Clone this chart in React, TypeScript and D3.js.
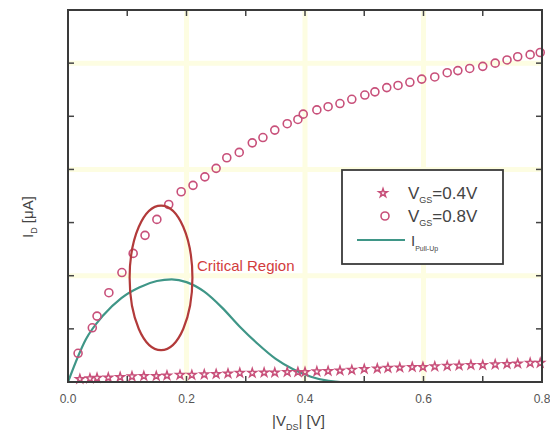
import React from "react";
import * as d3 from "d3";

// VGS = 0.8 V (circles)
const vds08 = [0.017, 0.041, 0.049, 0.069, 0.091, 0.11, 0.13, 0.15, 0.17, 0.191, 0.211, 0.231, 0.25, 0.268, 0.289, 0.311, 0.329, 0.349, 0.37, 0.388, 0.397, 0.42, 0.439, 0.459, 0.479, 0.501, 0.518, 0.538, 0.557, 0.577, 0.597, 0.619, 0.64, 0.658, 0.678, 0.7, 0.721, 0.741, 0.759, 0.78, 0.797];
const id08 = [0.27, 0.51, 0.62, 0.84, 1.03, 1.21, 1.38, 1.53, 1.67, 1.79, 1.85, 1.93, 2.01, 2.11, 2.16, 2.25, 2.3, 2.37, 2.43, 2.47, 2.52, 2.56, 2.59, 2.62, 2.66, 2.7, 2.73, 2.77, 2.79, 2.82, 2.85, 2.87, 2.91, 2.93, 2.95, 2.97, 3.0, 3.03, 3.06, 3.08, 3.1];

// VGS = 0.4 V (stars)
const vds04 = [0.02, 0.037, 0.049, 0.068, 0.088, 0.108, 0.128, 0.149, 0.167, 0.189, 0.209, 0.23, 0.25, 0.27, 0.29, 0.311, 0.331, 0.349, 0.37, 0.388, 0.4, 0.42, 0.439, 0.459, 0.479, 0.5, 0.522, 0.54, 0.56, 0.581, 0.599, 0.619, 0.64, 0.66, 0.68, 0.7, 0.721, 0.741, 0.759, 0.78, 0.797];
const id04 = [0.028, 0.033, 0.038, 0.042, 0.047, 0.052, 0.056, 0.056, 0.061, 0.066, 0.066, 0.071, 0.075, 0.08, 0.085, 0.085, 0.089, 0.089, 0.094, 0.094, 0.094, 0.099, 0.103, 0.108, 0.113, 0.122, 0.127, 0.132, 0.136, 0.141, 0.141, 0.146, 0.151, 0.155, 0.16, 0.16, 0.165, 0.169, 0.174, 0.179, 0.179];

// I Pull-Up (line)
const vdsPU = [0, 0.03, 0.06, 0.09, 0.12, 0.15, 0.175, 0.2, 0.23, 0.26, 0.29, 0.32, 0.35, 0.38, 0.41, 0.44, 0.46, 0.6, 0.8];
const idPU = [0, 0.4, 0.63, 0.79, 0.89, 0.95, 0.965, 0.94, 0.85, 0.7, 0.52, 0.36, 0.22, 0.12, 0.05, 0.01, 0, 0, 0];

const xTickLabels = ["0.0", "0.2", "0.4", "0.6", "0.8"];
const xMajor = [0, 0.2, 0.4, 0.6, 0.8];
const xMinor = [0.1, 0.3, 0.5, 0.7];
const yMajor = [1, 2, 3];
const yMinor = [0.5, 1.5, 2.5];

// critical region ellipse (data units)
const region = { cx: 0.157, cy: 0.98, rx: 0.053, ry: 0.68 };

const markColor = "#c8507a";
const lineColor = "#3f9687";

export default function App() {
  const left = 68, right = 542, top = 10, bottom = 382;
  const x = d3.scaleLinear().domain([0, 0.8]).range([left, right]);
  const y = d3.scaleLinear().domain([0, 3.5]).range([bottom, top]);

  const line = d3
    .line<number>()
    .x((_, i) => x(vdsPU[i]))
    .y((d) => y(d))
    .curve(d3.curveMonotoneX);

  const star = d3.symbol().type(d3.symbolStar).size(22)();
  const tl = 6;

  return (
    <svg width={550} height={440} style={{ position: "absolute", left: 0, top: 0, background: "#fff" }} fontFamily="Liberation Sans, Arial, sans-serif">
      {/* grid */}
      {[0.2, 0.4, 0.6].map((v) => (
        <line key={"gx" + v} x1={x(v)} x2={x(v)} y1={top} y2={bottom} stroke="#fdfde2" strokeWidth={5} />
      ))}
      {yMajor.map((v) => (
        <line key={"gy" + v} x1={left} x2={right} y1={y(v)} y2={y(v)} stroke="#fdfde2" strokeWidth={5} />
      ))}

      {/* ticks */}
      {xMajor.concat(xMinor).map((v) => (
        <g key={"tx" + v} stroke="#444" strokeWidth={1.5}>
          <line x1={x(v)} x2={x(v)} y1={bottom} y2={bottom - tl} />
          <line x1={x(v)} x2={x(v)} y1={top} y2={top + tl} />
        </g>
      ))}
      {yMajor.concat(yMinor).map((v) => (
        <g key={"ty" + v} stroke="#444" strokeWidth={1.5}>
          <line x1={left} x2={left + tl} y1={y(v)} y2={y(v)} />
          <line x1={right} x2={right - tl} y1={y(v)} y2={y(v)} />
        </g>
      ))}

      {/* series */}
      <path d={line(idPU) || ""} fill="none" stroke={lineColor} strokeWidth={2.2} />
      {vds04.map((v, i) => (
        <path key={"s" + i} d={star} transform={`translate(${x(v)},${y(id04[i])})`} fill="none" stroke={markColor} strokeWidth={1.5} />
      ))}
      {vds08.map((v, i) => (
        <circle key={"c" + i} cx={x(v)} cy={y(id08[i])} r={4} fill="none" stroke={markColor} strokeWidth={1.6} />
      ))}

      {/* critical region */}
      <ellipse
        cx={x(region.cx)}
        cy={y(region.cy)}
        rx={x(region.rx) - x(0)}
        ry={y(0) - y(region.ry)}
        fill="none"
        stroke="#b23a3a"
        strokeWidth={2.2}
      />
      <text x={197} y={271} fill="#d23c3c" fontSize={15}>Critical Region</text>

      {/* frame */}
      <rect x={left} y={top} width={right - left} height={bottom - top} fill="none" stroke="#3a3a3a" strokeWidth={2} />

      {/* tick labels */}
      {xMajor.map((v, i) => (
        <text key={"lx" + v} x={x(v)} y={403} textAnchor="middle" fontSize={12} fill="#555">{xTickLabels[i]}</text>
      ))}

      {/* axis labels */}
      <text x={272} y={426} fontSize={15} fill="#444">
        |V<tspan fontSize={9} dy={4}>DS</tspan><tspan dy={-4}>| [V]</tspan>
      </text>
      <text transform="translate(33,238) rotate(-90)" fontSize={15} fill="#444">
        I<tspan fontSize={9} dy={4}>D</tspan><tspan dy={-4}> [μA]</tspan>
      </text>

      {/* legend */}
      <rect x={342} y={170} width={161} height={94} fill="#fff" stroke="#3a3a3a" strokeWidth={1.8} />
      <path d={star} transform="translate(383,193)" fill="none" stroke={markColor} strokeWidth={1.5} />
      <text x={408} y={199} fontSize={17} fill="#444">
        V<tspan fontSize={9} dy={4}>GS</tspan><tspan dy={-4}>=0.4V</tspan>
      </text>
      <circle cx={385} cy={216} r={4} fill="none" stroke={markColor} strokeWidth={1.6} />
      <text x={408} y={222} fontSize={17} fill="#444">
        V<tspan fontSize={9} dy={4}>GS</tspan><tspan dy={-4}>=0.8V</tspan>
      </text>
      <line x1={357} x2={405} y1={240} y2={240} stroke={lineColor} strokeWidth={2.2} />
      <text x={411} y={246} fontSize={15} fill="#444">
        I<tspan fontSize={7} dy={5}>Pull-Up</tspan>
      </text>
    </svg>
  );
}
